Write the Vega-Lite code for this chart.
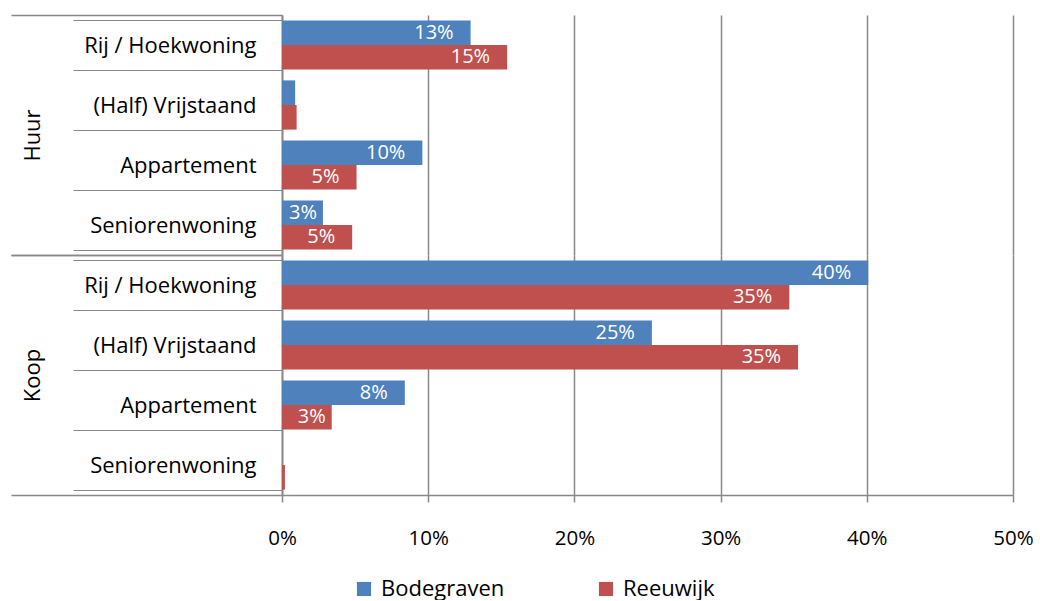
{
  "$schema": "https://vega.github.io/schema/vega-lite/v6.json",
  "padding": {"left": 10, "top": 4, "right": 20, "bottom": 0},
  "background": "white",
  "bounds": "flush",
  "spacing": 0,
  "config": {
    "font": "Open Sans",
    "view": {"stroke": null},
    "axis": {"labelColor": "#000000", "labelFont": "Open Sans"},
    "legend": {"labelColor": "#000000", "labelFont": "Open Sans"},
    "text": {"font": "Open Sans"},
    "concat": {"spacing": 0}
  },
  "data": {
    "values": [
      {"group": "Huur", "type": "Rij / Hoekwoning", "series": "Bodegraven", "value": 0.129},
      {"group": "Huur", "type": "Rij / Hoekwoning", "series": "Reeuwijk", "value": 0.154},
      {"group": "Huur", "type": "(Half) Vrijstaand", "series": "Bodegraven", "value": 0.009},
      {"group": "Huur", "type": "(Half) Vrijstaand", "series": "Reeuwijk", "value": 0.010},
      {"group": "Huur", "type": "Appartement", "series": "Bodegraven", "value": 0.096},
      {"group": "Huur", "type": "Appartement", "series": "Reeuwijk", "value": 0.051},
      {"group": "Huur", "type": "Seniorenwoning", "series": "Bodegraven", "value": 0.028},
      {"group": "Huur", "type": "Seniorenwoning", "series": "Reeuwijk", "value": 0.048},
      {"group": "Koop", "type": "Rij / Hoekwoning", "series": "Bodegraven", "value": 0.401},
      {"group": "Koop", "type": "Rij / Hoekwoning", "series": "Reeuwijk", "value": 0.347},
      {"group": "Koop", "type": "(Half) Vrijstaand", "series": "Bodegraven", "value": 0.253},
      {"group": "Koop", "type": "(Half) Vrijstaand", "series": "Reeuwijk", "value": 0.353},
      {"group": "Koop", "type": "Appartement", "series": "Bodegraven", "value": 0.084},
      {"group": "Koop", "type": "Appartement", "series": "Reeuwijk", "value": 0.034},
      {"group": "Koop", "type": "Seniorenwoning", "series": "Bodegraven", "value": 0.0},
      {"group": "Koop", "type": "Seniorenwoning", "series": "Reeuwijk", "value": 0.002}
    ]
  },
  "vconcat": [
    {
      "width": 731,
      "height": 240,
      "transform": [{"filter": "datum.group === 'Huur'"}],
      "layer": [
        {
          "mark": {"type": "bar", "opacity": 0},
          "encoding": {
            "y": {
              "field": "group", "type": "nominal",
              "scale": {"paddingInner": 0, "paddingOuter": 0},
              "axis": {
                "title": null, "orient": "left", "tickBand": "extent", "tickSize": 271,
                "tickColor": "#888888", "tickWidth": 1.5, "domain": false,
                "labelAngle": -90, "labelAlign": "center", "labelBaseline": "bottom",
                "labelFontSize": 22, "labelPadding": -33
              }
            },
            "x": {"datum": 0, "type": "quantitative"}
          }
        },
        {
          "mark": {"type": "bar"},
          "encoding": {
            "y": {
              "field": "type", "type": "nominal",
              "sort": ["Rij / Hoekwoning", "(Half) Vrijstaand", "Appartement", "Seniorenwoning"],
              "scale": {"paddingInner": 0.18, "paddingOuter": 0.09},
              "axis": {
                "title": null, "orient": "left", "tickBand": "extent", "tickSize": 209,
                "tickColor": "#888888", "tickWidth": 1.2, "domainColor": "#888888", "domainWidth": 1.8,
                "labelFontSize": 22, "labelPadding": -183
              }
            },
            "yOffset": {"field": "series", "type": "nominal", "sort": ["Bodegraven", "Reeuwijk"], "scale": {"paddingInner": 0, "paddingOuter": 0}},
            "x": {
              "field": "value", "type": "quantitative",
              "scale": {"domain": [0, 0.5], "nice": false},
              "axis": {
                "title": null, "values": [0, 0.1, 0.2, 0.3, 0.4, 0.5],
                "grid": true, "gridColor": "#888888", "gridWidth": 1.5,
                "domain": false, "ticks": false, "labels": false
              }
            },
            "color": {
              "field": "series", "type": "nominal",
              "scale": {"domain": ["Bodegraven", "Reeuwijk"], "range": ["#4F81BD", "#C0504D"]},
              "legend": {
                "title": null, "orient": "none", "legendX": 71, "legendY": 563, "direction": "horizontal",
                "symbolType": "square", "symbolSize": 200, "symbolStrokeWidth": 0, "symbolOpacity": 1,
                "labelFontSize": 22, "columnPadding": 90, "labelOffset": 6
              }
            }
          }
        },
        {
          "mark": {"type": "text", "align": "right", "baseline": "middle", "dx": -17, "color": "white", "fontSize": 20},
          "encoding": {
            "y": {
              "field": "type", "type": "nominal",
              "sort": ["Rij / Hoekwoning", "(Half) Vrijstaand", "Appartement", "Seniorenwoning"],
              "scale": {"paddingInner": 0.18, "paddingOuter": 0.09},
              "axis": null
            },
            "yOffset": {"field": "series", "type": "nominal", "sort": ["Bodegraven", "Reeuwijk"]},
            "x": {"field": "value", "type": "quantitative"},
            "text": {"field": "value", "type": "quantitative", "format": ".0%"},
            "opacity": {"condition": {"test": "datum.value < 0.04", "value": 0}, "value": 1}
          }
        },
        {
          "mark": {"type": "text", "align": "right", "baseline": "middle", "dx": -6, "color": "white", "fontSize": 20},
          "encoding": {
            "y": {
              "field": "type", "type": "nominal",
              "sort": ["Rij / Hoekwoning", "(Half) Vrijstaand", "Appartement", "Seniorenwoning"],
              "scale": {"paddingInner": 0.18, "paddingOuter": 0.09},
              "axis": null
            },
            "yOffset": {"field": "series", "type": "nominal", "sort": ["Bodegraven", "Reeuwijk"]},
            "x": {"field": "value", "type": "quantitative"},
            "text": {"field": "value", "type": "quantitative", "format": ".0%"},
            "opacity": {"condition": {"test": "datum.value >= 0.02 && datum.value < 0.04", "value": 1}, "value": 0}
          }
        }
      ],
      "resolve": {"scale": {"y": "independent"}, "axis": {"y": "independent"}}
    },
    {
      "width": 731,
      "height": 240,
      "transform": [{"filter": "datum.group === 'Koop'"}],
      "layer": [
        {
          "mark": {"type": "bar", "opacity": 0},
          "encoding": {
            "y": {
              "field": "group", "type": "nominal",
              "scale": {"paddingInner": 0, "paddingOuter": 0},
              "axis": {
                "title": null, "orient": "left", "tickBand": "extent", "tickSize": 271,
                "tickColor": "#888888", "tickWidth": 1.5, "domain": false,
                "labelAngle": -90, "labelAlign": "center", "labelBaseline": "bottom",
                "labelFontSize": 22, "labelPadding": -33
              }
            },
            "x": {"datum": 0, "type": "quantitative"}
          }
        },
        {
          "mark": {"type": "bar"},
          "encoding": {
            "y": {
              "field": "type", "type": "nominal",
              "sort": ["Rij / Hoekwoning", "(Half) Vrijstaand", "Appartement", "Seniorenwoning"],
              "scale": {"paddingInner": 0.18, "paddingOuter": 0.09},
              "axis": {
                "title": null, "orient": "left", "tickBand": "extent", "tickSize": 209,
                "tickColor": "#888888", "tickWidth": 1.2, "domainColor": "#888888", "domainWidth": 1.8,
                "labelFontSize": 22, "labelPadding": -183
              }
            },
            "yOffset": {"field": "series", "type": "nominal", "sort": ["Bodegraven", "Reeuwijk"], "scale": {"paddingInner": 0, "paddingOuter": 0}},
            "x": {
              "field": "value", "type": "quantitative",
              "scale": {"domain": [0, 0.5], "nice": false},
              "axis": {
                "title": null, "values": [0, 0.1, 0.2, 0.3, 0.4, 0.5], "format": ".0%",
                "grid": true, "gridColor": "#888888", "gridWidth": 1.5,
                "domainColor": "#888888", "domainWidth": 1.5, "tickColor": "#888888", "tickWidth": 1.5,
                "tickSize": 7, "labelPadding": 26, "labelFontSize": 20.5, "labelFlush": false
              }
            },
            "color": {
              "field": "series", "type": "nominal",
              "scale": {"domain": ["Bodegraven", "Reeuwijk"], "range": ["#4F81BD", "#C0504D"]},
              "legend": {
                "title": null, "orient": "none", "legendX": 71, "legendY": 563, "direction": "horizontal",
                "symbolType": "square", "symbolSize": 200, "symbolStrokeWidth": 0, "symbolOpacity": 1,
                "labelFontSize": 22, "columnPadding": 90, "labelOffset": 6
              }
            }
          }
        },
        {
          "mark": {"type": "text", "align": "right", "baseline": "middle", "dx": -17, "color": "white", "fontSize": 20},
          "encoding": {
            "y": {
              "field": "type", "type": "nominal",
              "sort": ["Rij / Hoekwoning", "(Half) Vrijstaand", "Appartement", "Seniorenwoning"],
              "scale": {"paddingInner": 0.18, "paddingOuter": 0.09},
              "axis": null
            },
            "yOffset": {"field": "series", "type": "nominal", "sort": ["Bodegraven", "Reeuwijk"]},
            "x": {"field": "value", "type": "quantitative"},
            "text": {"field": "value", "type": "quantitative", "format": ".0%"},
            "opacity": {"condition": {"test": "datum.value < 0.04", "value": 0}, "value": 1}
          }
        },
        {
          "mark": {"type": "text", "align": "right", "baseline": "middle", "dx": -6, "color": "white", "fontSize": 20},
          "encoding": {
            "y": {
              "field": "type", "type": "nominal",
              "sort": ["Rij / Hoekwoning", "(Half) Vrijstaand", "Appartement", "Seniorenwoning"],
              "scale": {"paddingInner": 0.18, "paddingOuter": 0.09},
              "axis": null
            },
            "yOffset": {"field": "series", "type": "nominal", "sort": ["Bodegraven", "Reeuwijk"]},
            "x": {"field": "value", "type": "quantitative"},
            "text": {"field": "value", "type": "quantitative", "format": ".0%"},
            "opacity": {"condition": {"test": "datum.value >= 0.02 && datum.value < 0.04", "value": 1}, "value": 0}
          }
        }
      ],
      "resolve": {"scale": {"y": "independent"}, "axis": {"y": "independent"}}
    }
  ]
}
